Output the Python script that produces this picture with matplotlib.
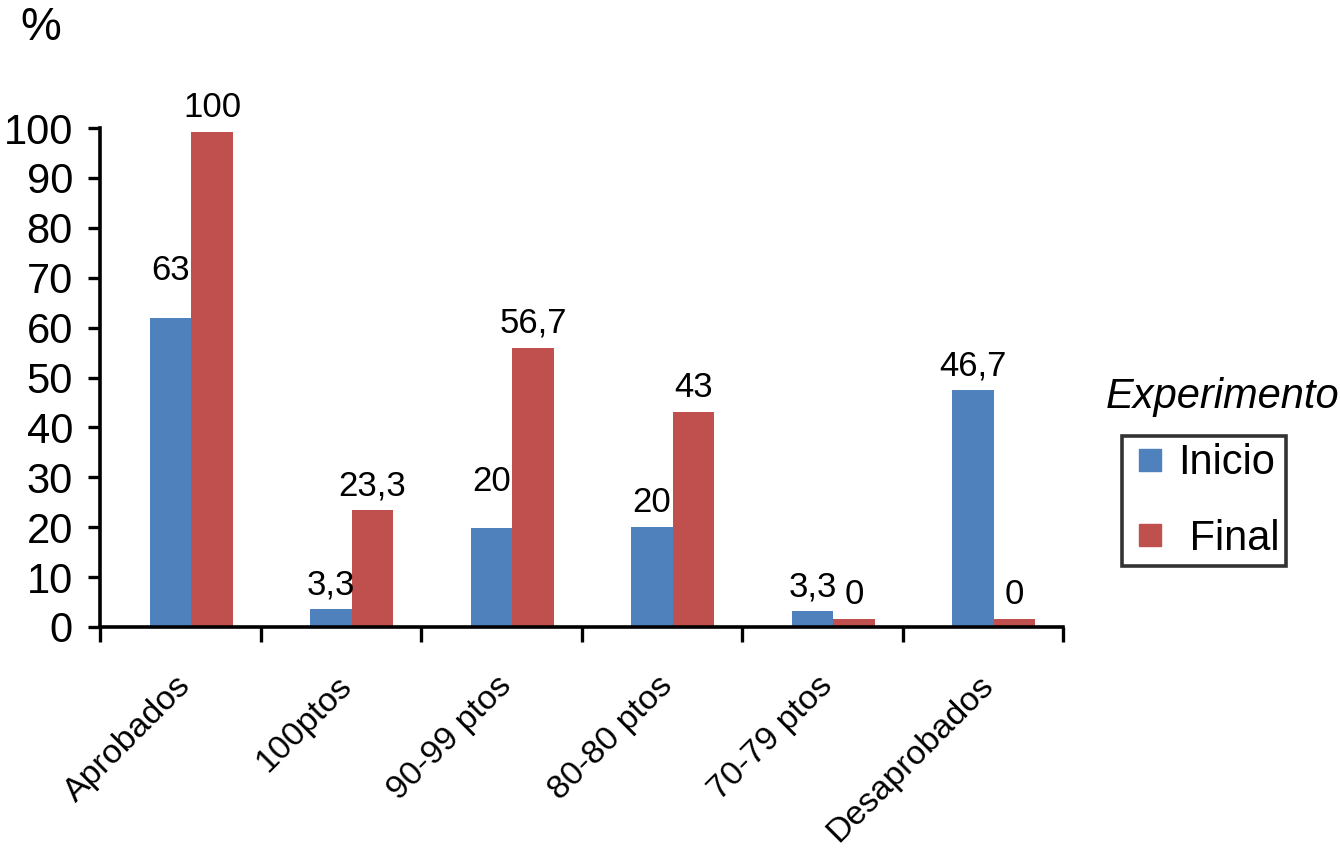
import matplotlib
matplotlib.use('Agg')
import matplotlib.pyplot as plt
import matplotlib.transforms as mtransforms
from matplotlib.lines import Line2D
import numpy as np

plt.rcParams['font.family'] = ['Liberation Sans', 'DejaVu Sans']

# Data (bar heights) and the printed value labels
categories = ['Aprobados', '100ptos', '90-99 ptos', '80-80 ptos', '70-79 ptos', 'Desaprobados']
inicio = [62.0, 3.6, 19.8, 20.0, 3.2, 47.5]
final = [99.2, 23.4, 56.0, 43.0, 1.6, 1.6]
inicio_labels = ['63', '3,3', '20', '20', '3,3', '46,7']
final_labels = ['100', '23,3', '56,7', '43', '0', '0']
series_names = ['Inicio', ' Final']
yticks = [0, 10, 20, 30, 40, 50, 60, 70, 80, 90, 100]

BLUE = '#4F81BD'
RED = '#C0504D'


def main():
    W, H = 1340, 857
    fig = plt.figure(figsize=(W / 100, H / 100), dpi=100)
    ax = fig.add_axes([100 / W, 1 - 627 / H, (1063 - 100) / W, (627 - 128) / H])

    n = len(categories)
    x = np.arange(n)
    width = 0.258
    ax.bar(x + 0.44, inicio, width, color=BLUE, zorder=2)
    ax.bar(x + 0.44 + width, final, width, color=RED, zorder=2)

    # value labels, two of them sit higher in the original
    lift_inicio = [7.5, 3.0, 7.5, 3.0, 3.0, 3.0]
    lift_final = [3.0, 3.0, 3.0, 3.0, 3.0, 3.0]
    for i in range(n):
        ax.text(x[i] + 0.44, inicio[i] + lift_inicio[i], inicio_labels[i],
                ha='center', va='baseline', fontsize=25)
        ax.text(x[i] + 0.44 + width, final[i] + lift_final[i], final_labels[i],
                ha='center', va='baseline', fontsize=25)

    ax.set_xlim(0, n)
    ax.set_ylim(0, 100)
    ax.set_yticks(yticks)
    ax.tick_params(axis='y', labelsize=30, length=8.5, width=2.4, pad=11)

    # boundary ticks below the axis, labels at category centres
    ax.set_xticks(np.arange(n + 1))
    ax.set_xticklabels([])
    ax.tick_params(axis='x', which='major', length=11, width=2.4)
    ax.set_xticks(x + 0.5, minor=True)
    ax.set_xticklabels(categories, minor=True, rotation=45, ha='right',
                       rotation_mode='anchor', fontsize=24.5)
    ax.tick_params(axis='x', which='minor', length=0, pad=31)
    shift = mtransforms.ScaledTranslation(-0.05, 0, fig.dpi_scale_trans)
    for lab in ax.get_xticklabels(minor=True):
        lab.set_transform(lab.get_transform() + shift)

    for side in ['top', 'right']:
        ax.spines[side].set_visible(False)
    for side in ['left', 'bottom']:
        ax.spines[side].set_linewidth(2.6)

    fig.text(20 / W, 1 - 28 / H, '%', fontsize=33, va='center')
    fig.text(1106 / W, 1 - 397 / H, 'Experimento', fontsize=30, style='italic', va='center')

    handles = [Line2D([], [], marker='s', linestyle='none', markersize=16,
                      markerfacecolor=c, markeredgecolor=c) for c in (BLUE, RED)]
    leg = fig.legend(handles, series_names, loc='upper left',
                     bbox_to_anchor=(1122 / W, 1 - 436 / H), borderaxespad=0,
                     fontsize=30, frameon=True, fancybox=False,
                     handlelength=1.0, handletextpad=0.17,
                     borderpad=0.17, labelspacing=0.85)
    leg.get_frame().set_edgecolor('black')
    leg.get_frame().set_linewidth(2.6)

    fig.savefig('out.png', dpi=100)


if __name__ == '__main__':
    main()
